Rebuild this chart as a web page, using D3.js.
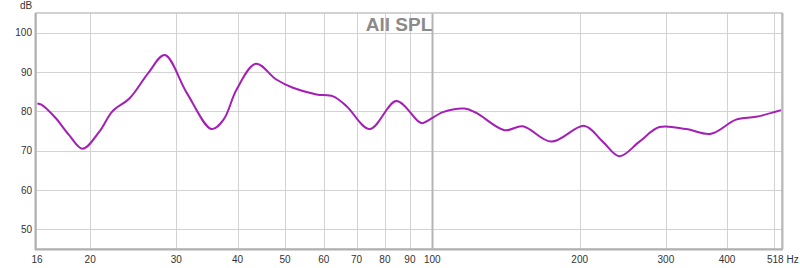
<!DOCTYPE html>
<html><head><meta charset="utf-8">
<script src="https://cdn.jsdelivr.net/npm/d3@7"></script>
<style>body{margin:0;background:#fff;}svg{display:block;font-family:"Liberation Sans",Arial,sans-serif;}</style>
</head><body>
<script>
const freqs = [15.6,15.9,17.0,18.1,19.3,20.9,22.2,24.1,26.3,28.4,31.5,35.4,37.5,39.8,43.6,48.0,51.9,58.0,62.7,66.8,74.5,84.4,93.5,95.4,105.1,116.4,123.0,140.5,153.1,175.0,204.6,222.9,241.1,264.9,291.0,330.0,371.0,417.3,458.3,515.6];
const spl   = [82.0,81.7,78.3,74.0,70.5,74.9,80.0,83.4,89.8,94.3,84.7,75.5,78.0,85.5,92.1,88.1,86.0,84.3,83.8,81.3,75.5,82.6,77.5,77.0,79.8,80.7,79.6,75.2,76.2,72.3,76.3,72.3,68.6,72.3,76.0,75.5,74.3,77.9,78.6,80.3];
const yTicks = [50,60,70,80,90,100];
const xGrid = [20,30,40,50,60,70,80,90,100,200,300,400,500];
const xLabels = [20,30,40,50,60,70,80,90,100,200,300,400];

const W=800,H=268, L=36,R=782,T=13,B=249;
const svg=d3.select("body").append("svg").attr("width",W).attr("height",H);
const x=d3.scaleLog().domain([15.5,518]).range([L,R]);
const y=d3.scaleLinear().domain([45,105]).range([B,T]);

svg.append("rect").attr("x",L).attr("y",T).attr("width",R-L).attr("height",B-T).attr("fill","#fff");

// grid
svg.append("g").selectAll("line").data(yTicks).join("line")
  .attr("x1",L).attr("x2",R).attr("y1",d=>Math.round(y(d))+0.5).attr("y2",d=>Math.round(y(d))+0.5)
  .attr("stroke","#d2d2d2").attr("stroke-width",1);
svg.append("g").selectAll("line").data(xGrid).join("line")
  .attr("x1",d=>Math.round(x(d))+0.5).attr("x2",d=>Math.round(x(d))+0.5).attr("y1",T).attr("y2",B)
  .attr("stroke",d=>d===100?"#b4b4b4":"#d2d2d2").attr("stroke-width",d=>d===100?2:1);

// title
svg.append("text").attr("x",399).attr("y",31).attr("text-anchor","middle")
  .attr("font-size",19).attr("font-weight","bold").attr("fill","#8a8a8a").text("All SPL");

// curve
svg.append("clipPath").attr("id","c").append("rect").attr("x",L).attr("y",T).attr("width",R-L).attr("height",B-T);
const pts=freqs.map((f,i)=>[f,spl[i]]);
svg.append("path").datum(pts).attr("clip-path","url(#c)")
  .attr("d",d3.line().x(d=>x(d[0])).y(d=>y(d[1])).curve(d3.curveCatmullRom.alpha(0.5)))
  .attr("fill","none").attr("stroke","#a41fb5").attr("stroke-width",2);

// border
svg.append("rect").attr("x",L).attr("y",T).attr("width",R-L).attr("height",B-T)
  .attr("fill","none").attr("stroke","#c4c4c4").attr("stroke-width",1.5);
svg.append("line").attr("x1",L-0.5).attr("x2",L-0.5).attr("y1",T).attr("y2",B+1).attr("stroke","#b0b0b0").attr("stroke-width",2);
svg.append("line").attr("x1",L-1).attr("x2",R+1).attr("y1",B+0.5).attr("y2",B+0.5).attr("stroke","#b0b0b0").attr("stroke-width",2);
svg.append("line").attr("x1",R+0.5).attr("x2",R+0.5).attr("y1",T).attr("y2",B).attr("stroke","#b8b8b8").attr("stroke-width",2);

// y labels
svg.append("g").selectAll("text").data(yTicks).join("text")
  .attr("x",32).attr("y",d=>y(d)+3.5).attr("text-anchor","end").attr("font-size",10).attr("fill","#333").text(d=>d);
svg.append("text").attr("x",20).attr("y",9).attr("font-size",10).attr("fill","#333").text("dB");

// x labels
svg.append("g").selectAll("text").data(xLabels).join("text")
  .attr("x",d=>x(d)).attr("y",263).attr("text-anchor","middle").attr("font-size",10).attr("fill","#333").text(d=>d);
svg.append("text").attr("x",37).attr("y",263).attr("text-anchor","middle").attr("font-size",10).attr("fill","#333").text("16");
svg.append("text").attr("x",767).attr("y",263).attr("font-size",10).attr("fill","#333").text("518 Hz");
</script>
</body></html>
